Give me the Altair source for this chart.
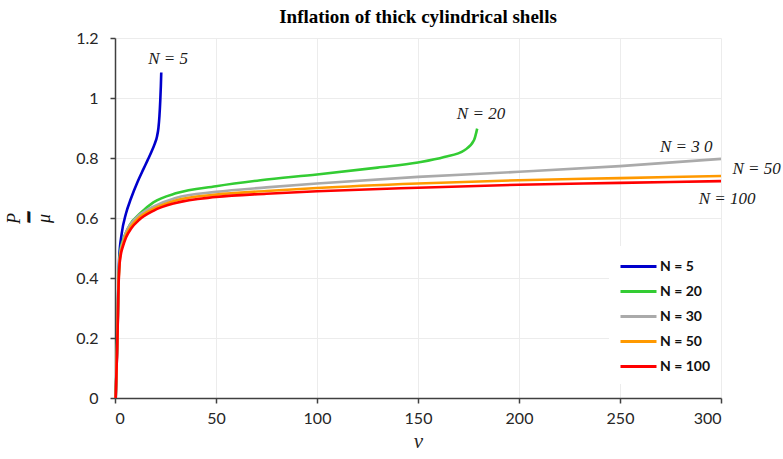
import altair as alt
import pandas as pd

# Series names and colours (legend order)
series_names = ["N = 5", "N = 20", "N = 30", "N = 50", "N = 100"]
series_colors = ["#0000cc", "#33cc33", "#aaaaaa", "#ff9900", "#ff0000"]

# Pressure P/mu against v for each N
v_n5 = [0.35, 0.85, 1.3, 1.6, 2.1, 3.3, 5.4, 7.9, 11.2, 14.0, 16.1, 18.0, 19.7, 20.8, 21.5, 22.0, 22.4, 22.7, 22.9]
p_n5 = [0.0, 0.115, 0.226, 0.35, 0.47, 0.547, 0.614, 0.665, 0.721, 0.762, 0.792, 0.820, 0.848, 0.872, 0.90, 0.94, 0.99, 1.04, 1.085]

v_n20 = [0.35, 0.85, 1.3, 1.6, 2.1, 2.8, 4.0, 5.0, 7.4, 12.4, 19.0, 30.6, 50, 72, 100, 130, 150, 163, 173, 177.7, 179.3]
p_n20 = [0.0, 0.13, 0.245, 0.355, 0.45, 0.497, 0.527, 0.545, 0.578, 0.615, 0.652, 0.683, 0.706, 0.726, 0.745, 0.768, 0.785, 0.803, 0.826, 0.859, 0.898]

v_common = [0.35, 0.85, 1.3, 1.6, 2.1, 2.8, 4.0, 5.5, 8, 12, 19, 30, 50, 75, 100, 150, 200, 250, 300]
p_n30 = [0.0, 0.125, 0.24, 0.35, 0.445, 0.49, 0.522, 0.553, 0.582, 0.61, 0.638, 0.667, 0.687, 0.702, 0.715, 0.737, 0.754, 0.773, 0.797]
p_n50 = [0.0, 0.12, 0.233, 0.343, 0.438, 0.482, 0.514, 0.544, 0.573, 0.602, 0.630, 0.658, 0.678, 0.690, 0.700, 0.715, 0.726, 0.733, 0.740]
p_n100 = [0.0, 0.115, 0.226, 0.337, 0.43, 0.475, 0.507, 0.536, 0.565, 0.594, 0.624, 0.650, 0.670, 0.681, 0.689, 0.701, 0.711, 0.717, 0.723]

# Curve annotations
label_text = ["N = 5", "N = 20", "N = 3 0", "N = 50", "N = 100"]
label_v = [26.3, 181.2, 282.8, 317.6, 303.0]
label_p = [1.129, 0.946, 0.837, 0.762, 0.664]

x_ticks = [0, 50, 100, 150, 200, 250, 300]
y_ticks = [0, 0.2, 0.4, 0.6, 0.8, 1.0, 1.2]

curves = [
    (series_names[0], v_n5, p_n5),
    (series_names[1], v_n20, p_n20),
    (series_names[2], v_common, p_n30),
    (series_names[3], v_common, p_n50),
    (series_names[4], v_common, p_n100),
]

x_scale = alt.Scale(domain=[0, 300], nice=False, zero=False)
y_scale = alt.Scale(domain=[0, 1.2], nice=False)
color_scale = alt.Scale(domain=series_names, range=series_colors)

axis_common = dict(
    labelFont="Lato", labelFontSize=16, labelColor="#262626",
    domainColor="#404040", domainWidth=1.5,
    tickColor="#404040", tickWidth=1.5, tickSize=5,
    gridColor="#ececec", gridWidth=1,
)

x_axis = alt.Axis(
    values=x_ticks, title="v", titleFont="Liberation Serif", titleFontStyle="italic",
    titleFontWeight="normal", titleFontSize=21, titleColor="#262626", titlePadding=4,
    labelPadding=7, **axis_common,
)
y_axis = alt.Axis(
    values=y_ticks, format="~g", title=["P", "━", "μ"], titleFont="Liberation Serif",
    titleFontStyle="italic", titleFontWeight="normal", titleFontSize=18,
    titleColor="#111111", titleLineHeight=15, titleAngle=270,
    titleAlign="center", titleBaseline="middle", titleX=-101, titleY=180,
    labelPadding=12, **axis_common,
)

legend = alt.Legend(
    title=None, orient="none", legendX=494, legendY=208, fillColor="white",
    padding=10, symbolType="M-1,0L3,0", symbolSize=324, symbolStrokeWidth=3,
    labelFont="Lato", labelFontWeight="bold", labelFontSize=14, labelColor="#111111",
    labelOffset=20, rowPadding=7,
)

layers = []
for name, vs, ps in curves:
    df = pd.DataFrame({"v": vs, "p": ps, "series": name})
    layers.append(
        alt.Chart(df).mark_line(strokeWidth=2.6, interpolate="monotone").encode(
            x=alt.X("v:Q", scale=x_scale, axis=x_axis),
            y=alt.Y("p:Q", scale=y_scale, axis=y_axis),
            color=alt.Color("series:N", scale=color_scale, legend=legend),
        )
    )

labels_df = pd.DataFrame({"v": label_v, "p": label_p, "text": label_text})
labels = alt.Chart(labels_df).mark_text(
    font="Liberation Serif", fontStyle="italic", fontSize=17, color="#1a1a1a"
).encode(
    x=alt.X("v:Q", scale=x_scale),
    y=alt.Y("p:Q", scale=y_scale),
    text="text:N",
)

chart = alt.layer(*layers, labels).properties(
    width=606,
    height=360,
    title=alt.TitleParams(
        "Inflation of thick cylindrical shells", font="Liberation Serif",
        fontSize=19, fontWeight="bold", color="black", anchor="middle",
        baseline="alphabetic", offset=6, dy=18,
    ),
    autosize=alt.AutoSizeParams(type="none"),
    padding={"left": 115, "top": 38, "right": 62, "bottom": 61},
    background="white",
).configure_view(stroke=None)

chart.save("out.html", embed_options={"renderer": "svg", "actions": False})
